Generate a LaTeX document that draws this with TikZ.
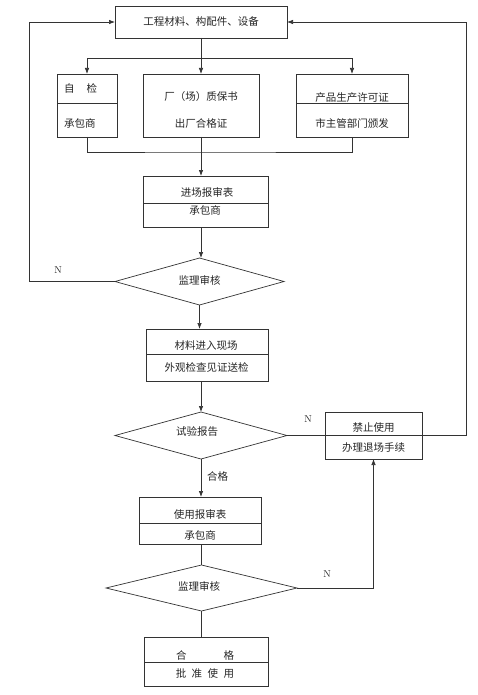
\documentclass[tikz,border=0pt]{standalone}
\usepackage{fontspec}
\newfontfamily\cjk{Noto Sans CJK SC}
\usetikzlibrary{arrows.meta,shapes.geometric}
\tikzset{
  ln/.style={draw=black!80, line width=0.7pt},
  arr/.style={ln, -{Latex[length=6pt,width=4.5pt]}},
  box/.style={ln, rectangle, inner sep=0pt, outer sep=0pt},
  dia/.style={ln, diamond, inner sep=0pt, outer sep=0pt},
  txt/.style={font=\cjk\fontsize{10.5}{12}\selectfont, inner sep=0pt, text=black!85},
  nlab/.style={font=\fontsize{10}{11}\selectfont, inner sep=0pt, text=black!85}
}
\begin{document}
\begin{tikzpicture}[x=1pt,y=-1pt]
\useasboundingbox (0,0) rectangle (477,695);
\fill[white] (0,0) rectangle (477,695);
% boxes
\node[box, minimum width=172pt, minimum height=32pt] (t) at (201,22) {};
\node[txt] (tt) at (t) {工程材料、构配件、设备};

\node[box, minimum width=60pt, minimum height=63pt] (b1) at (87,105.5) {};
\draw[ln] (57,103) -- (117,103);
\node[txt, anchor=west] (b1a) at (64,88) {自\hspace{12pt}检};
\node[txt, anchor=west] (b1b) at (64,123) {承包商};

\node[box, minimum width=116pt, minimum height=63pt] (b2) at (201,105.5) {};
\node[txt] (b2a) at (201,97) {厂（场）质保书};
\node[txt] (b2b) at (201,123) {出厂合格证};

\node[box, minimum width=112pt, minimum height=63pt] (b3) at (352,105.5) {};
\draw[ln] (296,103) -- (408,103);
\node[txt] (b3a) at (352,98) {产品生产许可证};
\node[txt] (b3b) at (352,123) {市主管部门颁发};

\node[box, minimum width=125pt, minimum height=51pt] (b4) at (205.5,201.5) {};
\draw[ln] (143,203) -- (268,203);
\node[txt] (b4a) at (207,192) {进场报审表};
\node[txt] (b4b) at (205,210) {承包商};

\node[dia, minimum width=169pt, minimum height=47pt] (d1) at (199.5,281.5) {};
\node[txt] (d1t) at (199.5,280) {监理审核};

\node[box, minimum width=122pt, minimum height=52pt] (b5) at (207,355) {};
\draw[ln] (146,354) -- (268,354);
\node[txt] (b5a) at (206,346) {材料进入现场};
\node[txt] (b5b) at (206.5,367) {外观检查见证送检};

\node[dia, minimum width=172pt, minimum height=47pt] (d2) at (201,435.5) {};
\node[txt] (d2t) at (197,432) {试验报告};

\node[box, minimum width=97pt, minimum height=47pt] (b6) at (373.5,435.5) {};
\draw[ln] (325,435.5) -- (422,435.5);
\node[txt] (b6a) at (373.5,428) {禁止使用};
\node[txt] (b6b) at (373.5,448) {办理退场手续};

\node[box, minimum width=122pt, minimum height=47pt] (b7) at (200,520.5) {};
\draw[ln] (139,523) -- (261,523);
\node[txt] (b7a) at (200,514) {使用报审表};
\node[txt] (b7b) at (200,535) {承包商};

\node[dia, minimum width=191pt, minimum height=46pt] (d3) at (201.5,588) {};
\node[txt] (d3t) at (199,586) {监理审核};

\node[box, minimum width=124pt, minimum height=49pt] (b8) at (206,661.5) {};
\draw[ln] (144,662) -- (268,662);
\node[txt] (b8a) at (205,655) {合\hspace{37pt}格};
\node[txt] (b8b) at (205,674) {批\hspace{5.5pt}准\hspace{5.5pt}使\hspace{5.5pt}用};

% connectors
\coordinate (j1) at (201,58);
\coordinate (j2) at (201,152);
\draw[ln] (t.south) -- (j1);
\draw[arr] (j1) -| (b1.north);
\draw[arr] (j1) -| (b3.north);
\draw[arr] (j1) -- (b2.north);
\draw[ln] (b1.south) |- (j2) -| (b3.south);
\draw[arr] (b2.south) -- (b2.south |- b4.north);
\draw[arr] (b2.south |- b4.south) -- (b2.south |- d1.north);
\coordinate (cL) at (29,281.5);
\draw[arr] (d1.west) -- (cL) |- (t.west);
\node[nlab] (n1) at (58,270) {N};
\draw[arr] (d1.south) -- (d1.south |- b5.north);
\draw[arr] (d2.north |- b5.south) -- (d2.north);
\draw[ln] (d2.east) -- (b6.west);
\node[nlab] (n2) at (308,419) {N};
\coordinate (cR) at (466,435.5);
\draw[arr] (b6.east) -- (cR) |- (t.east);
\draw[arr] (d2.south) -- (d2.south |- b7.north);
\node[txt] (ok) at (217.5,476) {合格};
\draw[ln] (d3.north |- b7.south) -- (d3.north);
\draw[arr] (d3.east) -| (b6.south);
\node[nlab] (n3) at (327,574) {N};
\draw[ln] (d3.south) -- (d3.south |- b8.north);
\end{tikzpicture}
\end{document}
